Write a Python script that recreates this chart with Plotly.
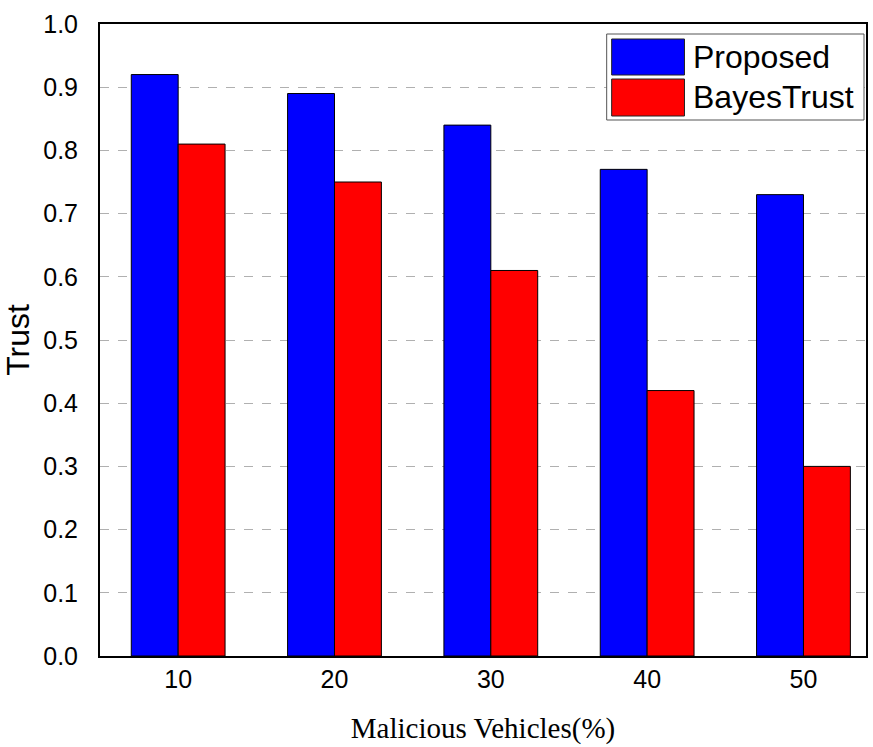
import plotly.graph_objects as go

categories = [10, 20, 30, 40, 50]
proposed = [0.92, 0.89, 0.84, 0.77, 0.73]
bayes = [0.81, 0.75, 0.61, 0.42, 0.30]
series_names = ["Proposed", "BayesTrust"]
colors = ["#0000FF", "#FF0000"]

L, R, T, B = 100, 868, 24, 656
W, H = 873, 747

def px(x):
    return (x - L) / (R - L)

def py(y):
    return (B - y) / (B - T)

fig = go.Figure()
for name, vals, c in zip(series_names, [proposed, bayes], colors):
    fig.add_trace(go.Bar(x=categories, y=vals, name=name, marker=dict(color=c, line=dict(color="black", width=1)), showlegend=False))

fig.update_layout(
    width=W, height=H,
    margin=dict(l=L, r=W - R, t=T, b=H - B),
    plot_bgcolor="white", paper_bgcolor="white",
    barmode="group", bargap=0.4, bargroupgap=0,
    font=dict(family="Liberation Sans, Arial", color="black"),
)
fig.update_xaxes(
    range=[5, 54], tickvals=categories, ticktext=[str(c) for c in categories],
    showline=True, linecolor="black", linewidth=2, mirror=True, showgrid=False,
    ticks="", tickfont=dict(size=25), ticklabelstandoff=0,
    title=dict(text="Malicious Vehicles(%)", font=dict(family="Liberation Serif, Times New Roman", size=29), standoff=26),
)
fig.update_yaxes(
    range=[0, 1.0], dtick=0.1, tickformat=".1f",
    showline=True, linecolor="black", linewidth=2, mirror=True,
    showgrid=True, gridcolor="#b0b0b0", griddash="dash", gridwidth=1,
    ticks="", tickfont=dict(size=25), ticklabelstandoff=15,
    title=dict(text="Trust", font=dict(size=32), standoff=6),
    zeroline=False,
)

# legend box
fig.add_shape(type="rect", xref="paper", yref="paper", x0=px(608), x1=px(866), y0=py(120), y1=py(34),
              line=dict(color="#555555", width=1), fillcolor="white", layer="above")
sw = [(39, 75), (79, 116)]
for (y0, y1), name, c in zip(sw, series_names, colors):
    fig.add_shape(type="rect", xref="paper", yref="paper", x0=px(613), x1=px(686), y0=py(y1), y1=py(y0),
                  line=dict(color="#222222", width=1), fillcolor=c, layer="above")
    fig.add_annotation(xref="paper", yref="paper", x=px(693), y=py((y0 + y1) / 2), text=name, showarrow=False,
                       xanchor="left", yanchor="middle", font=dict(size=32, color="black"))

fig.write_html("out.html")
